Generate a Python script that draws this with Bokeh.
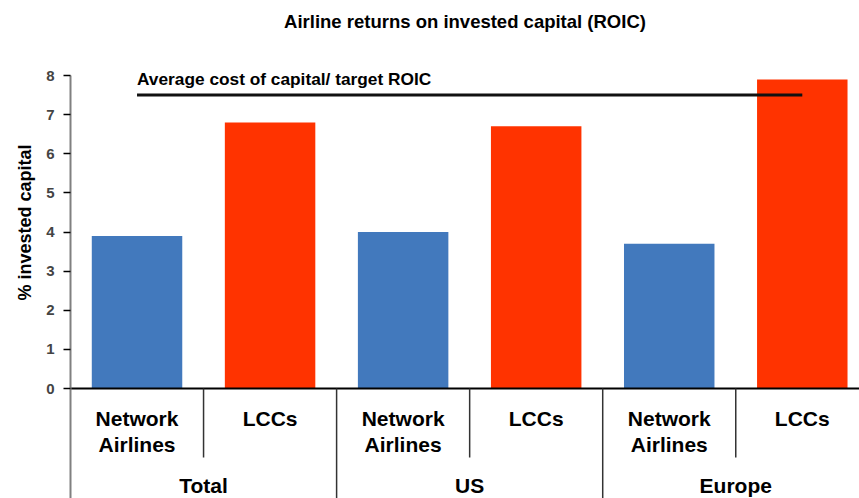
from bokeh.plotting import figure
from bokeh.models import FixedTicker, Range1d, Title
from bokeh.core.properties import value
from bokeh.embed import file_html
from bokeh.resources import INLINE

# ---- data ----
title_text = "Airline returns on invested capital (ROIC)"
groups = ["Total", "US", "Europe"]
sub_labels = ["Network\nAirlines", "LCCs"]
roic_network = [3.9, 4.0, 3.7]
roic_lcc = [6.8, 6.7, 7.9]
target_roic = 7.5
target_label = "Average cost of capital/ target ROIC"
y_ticks = [0, 1, 2, 3, 4, 5, 6, 7, 8]
y_label = "% invested capital"

# ---- styles / layout ----
BLUE = "#4279BD"
RED = "#FF3300"
FONT = "Liberation Sans"
W, H = 859, 498
TOP, LEFT = 75, 70                     # pixel position of the value 8 / of the axis
Y_MAX = 8
PPU = 313 / Y_MAX                      # pixels per y unit
Y_START = Y_MAX - (H - TOP) / PPU      # frame reaches the bottom edge
Y_END = Y_MAX + TOP / PPU              # frame reaches the top edge
X_END = 5.93

p = figure(width=W, height=H, x_range=Range1d(0, X_END), y_range=Range1d(Y_START, Y_END),
           output_backend="svg", toolbar_location=None, x_axis_location=None,
           min_border_left=LEFT, min_border_right=0, min_border_top=0, min_border_bottom=0)
p.outline_line_color = None
p.grid.visible = False

ax = p.yaxis[0]
ax.bounds = (Y_START, Y_MAX)
ax.ticker = FixedTicker(ticks=y_ticks)
ax.axis_line_color = "#808080"
ax.axis_line_width = 2
ax.major_tick_line_color = "black"
ax.major_tick_line_width = 1.5
ax.major_tick_out = 7
ax.major_tick_in = 0
ax.minor_tick_line_color = None
ax.major_label_text_font = FONT
ax.major_label_text_font_size = "15px"
ax.major_label_text_font_style = "bold"
ax.major_label_standoff = 9

# y axis label as a left-side title, starting 198px above the bottom edge
p.add_layout(Title(text=y_label, align="left", offset=198,
                   text_font=FONT, text_font_size="18px", text_font_style="bold",
                   text_color="black", standoff=17), "left")

# chart title (drawn inside the extended frame)
p.text(x=[X_END / 2], y=[Y_MAX + (TOP - 21) / PPU], text=[title_text],
       text_font=value(FONT), text_font_size="18.5px", text_font_style="bold",
       text_align="center", text_baseline="alphabetic", text_color="black")

# bars
xs, tops, cols = [], [], []
for g in range(len(groups)):
    xs += [2 * g + 0.5, 2 * g + 1.5]
    tops += [roic_network[g], roic_lcc[g]]
    cols += [BLUE, RED]
p.vbar(x=xs, top=tops, bottom=0, width=0.68, fill_color=cols, line_color=None)

# baseline
p.segment(x0=[0], y0=[0], x1=[2 * len(groups)], y1=[0], line_color="black", line_width=2)

# separators inside groups
sub_sep = [2 * g + 1 for g in range(len(groups))]
p.segment(x0=sub_sep, y0=[0] * len(sub_sep), x1=sub_sep, y1=[-69 / PPU] * len(sub_sep),
          line_color="#333333", line_width=1.5)
# separators between groups
grp_sep = [2 * g for g in range(1, len(groups))]
p.segment(x0=grp_sep, y0=[0] * len(grp_sep), x1=grp_sep, y1=[Y_START] * len(grp_sep),
          line_color="#333333", line_width=1.5)

# target line
p.segment(x0=[0.5], y0=[target_roic], x1=[len(groups) * 2 - 0.5], y1=[target_roic],
          line_color="#111111", line_width=3)
p.text(x=[0.5], y=[target_roic + 16 / PPU], text=[target_label],
       text_font=value(FONT), text_font_size="17.3px", text_font_style="bold",
       text_align="left", text_baseline="alphabetic", text_color="black")

# category labels
lx, ly, lt = [], [], []
for g in range(len(groups)):
    for s, lab in enumerate(sub_labels):
        for k, line in enumerate(lab.split("\n")):
            lx.append(2 * g + s + 0.5)
            ly.append(-(30 + 26 * k) / PPU)
            lt.append(line)
p.text(x=lx, y=ly, text=lt, text_font=value(FONT), text_font_size="21px",
       text_font_style="bold", text_align="center", text_baseline="alphabetic",
       text_color="black")

gx = [2 * g + 1 for g in range(len(groups))]
p.text(x=gx, y=[-97 / PPU] * len(groups), text=groups, text_font=value(FONT),
       text_font_size="21px", text_font_style="bold", text_align="center",
       text_baseline="alphabetic", text_color="black")

open("out.html", "w").write(file_html(p, INLINE))
